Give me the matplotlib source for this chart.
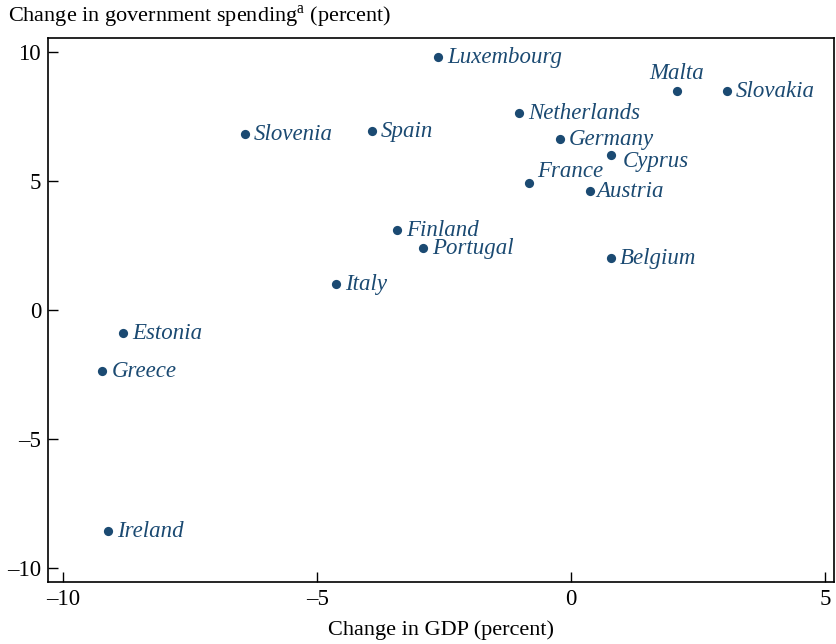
import matplotlib
matplotlib.use("Agg")
import matplotlib.pyplot as plt

# country data: change in GDP vs change in government spending
countries = ["Luxembourg", "Malta", "Slovakia", "Netherlands", "Germany", "Slovenia",
             "Spain", "Cyprus", "France", "Austria", "Finland", "Portugal", "Belgium",
             "Italy", "Estonia", "Greece", "Ireland"]
gdp = [-2.62, 2.09, 3.07, -1.02, -0.22, -6.42, -3.92, 0.79, -0.83, 0.37, -3.43,
       -2.91, 0.79, -4.63, -8.82, -9.23, -9.11]
spending = [9.81, 8.49, 8.49, 7.64, 6.63, 6.82, 6.94, 6.01, 4.92, 4.61, 3.10,
            2.40, 2.02, 1.01, -0.89, -2.36, -8.57]

# label offsets in points (dx, dy, ha)
offsets = {
    "Malta": (0, 12.5, "center"),
    "France": (6, 8, "left"),
    "Cyprus": (8.5, -4.5, "left"),
    "Austria": (4.5, -0.5, "left"),
}

plt.rcParams["font.family"] = "Liberation Serif"
plt.rcParams["mathtext.fontset"] = "custom"
plt.rcParams["mathtext.rm"] = "Liberation Serif"
col = "#1b4a72"

fig = plt.figure(figsize=(8.36, 6.44), dpi=100)
ax = fig.add_axes([48/836, 1-581.7/644, (834-48)/836, (581.7-38)/644])

ax.scatter(gdp, spending, s=44, color=col, zorder=3, linewidths=0)
for name, x, y in zip(countries, gdp, spending):
    dx, dy, ha = offsets.get(name, (6.5, -0.3, "left"))
    ax.annotate(name, (x, y), xytext=(dx, dy), textcoords="offset points",
                ha=ha, va="center", fontsize=16.5, style="italic", color=col)

ax.set_xlim(-10.3, 5.18)
ax.set_ylim(-10.53, 10.54)
ax.set_xticks([-10, -5, 0, 5])
ax.set_yticks([-10, -5, 0, 5, 10])
ax.set_xticklabels(["\u201310", "\u20135", "0", "5"])
ax.set_yticklabels(["\u201310", "\u20135", "0", "5", "10"])
ax.tick_params(direction="in", length=7, width=1, labelsize=16.5, pad=5)
for s in ax.spines.values():
    s.set_linewidth(1.2)

ax.set_xlabel("Change in GDP (percent)", fontsize=16, labelpad=8)
fig.text(8/836, 1-17/644, "Change in government spending$^{\\mathrm{a}}$ (percent)",
         fontsize=16, ha="left", va="center")

fig.savefig("out.png", dpi=100)
